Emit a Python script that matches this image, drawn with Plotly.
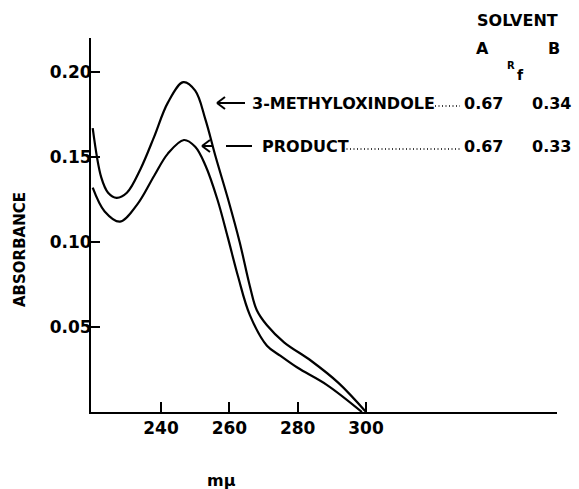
import plotly.graph_objects as go

# ---- data ----
wl_methyl = [220, 222.5, 224.5, 227, 230, 234, 238, 242, 246.5, 250, 253,
             256, 259.5, 263, 266, 268, 271, 276, 284, 292, 300]
abs_methyl = [0.167, 0.138, 0.129, 0.126, 0.129, 0.143, 0.162, 0.182, 0.194, 0.189, 0.172,
              0.150, 0.126, 0.100, 0.074, 0.060, 0.051, 0.041, 0.030, 0.017, 0.0]

wl_product = [220, 223.5, 228, 233, 238, 242, 246.7, 250, 253, 256.5, 259.5,
              262.5, 266, 271, 275, 280, 288.5, 298.8]
abs_product = [0.132, 0.118, 0.112, 0.122, 0.139, 0.152, 0.160, 0.156, 0.145, 0.125, 0.103,
               0.080, 0.057, 0.039, 0.033, 0.026, 0.016, 0.0]

x_ticks = [240, 260, 280, 300]
y_ticks = [0.05, 0.10, 0.15, 0.20]

compounds = ["3-METHYLOXINDOLE", "PRODUCT"]
rf_solvent_a = ["0.67", "0.67"]
rf_solvent_b = ["0.34", "0.33"]

# ---- layout geometry ----
W, H = 579, 489
L, R, T, B = 91, 22, 38, 77
PW, PH = W - L - R, H - T - B

def px(x):
    return (x - L) / PW

def py(y):
    return (H - B - y) / PH

FONT = "DejaVu Sans"

fig = go.Figure()
for wl, ab in [(wl_methyl, abs_methyl), (wl_product, abs_product)]:
    fig.add_trace(go.Scatter(x=wl, y=ab, mode="lines",
                             line=dict(color="black", width=2.2, shape="spline", smoothing=1.0),
                             showlegend=False, hoverinfo="skip"))

annotations = []
def txt(text, x, y, size=16, xanchor="center", angle=0):
    annotations.append(dict(text=text, x=px(x), y=py(y), xref="paper", yref="paper",
                            xanchor=xanchor, yanchor="middle", showarrow=False,
                            textangle=angle,
                            font=dict(family=FONT, size=size, color="black", weight="bold")))

txt("SOLVENT", 517, 20)
txt("A", 482, 48)
txt("B", 554, 48)
txt("R", 511, 66, size=10)
txt("f", 520, 75, size=14)

row_y = [103, 146]
name_x = [250, 260]
dots_x0 = [435, 343]
for i in range(2):
    txt(compounds[i], name_x[i], row_y[i], xanchor="left")
    txt(rf_solvent_a[i], 462, row_y[i], xanchor="left")
    txt(rf_solvent_b[i], 573, row_y[i], xanchor="right")

txt("ABSORBANCE", 20, 250, size=15, angle=-90)
txt("m\u03bc", 221, 480, size=16)

shapes = []
def seg(x0, y0, x1, y1, dash=None, width=2):
    shapes.append(dict(type="line", xref="paper", yref="paper",
                       x0=px(x0), y0=py(y0), x1=px(x1), y1=py(y1),
                       line=dict(color="black", width=width, dash=dash)))

# arrows
seg(217, 103, 245, 103)
seg(217, 103, 225, 97)
seg(217, 103, 225, 109)
seg(202, 146, 213, 146)
seg(202, 146, 210, 140)
seg(202, 146, 210, 152)
seg(226, 146, 252, 146)
# dotted leaders
for i in range(2):
    seg(dots_x0[i], row_y[i] + 3, 460, row_y[i] + 3, dash="1px,2.5px", width=1.5)

fig.update_layout(
    width=W, height=H,
    margin=dict(l=L, r=R, t=T, b=B),
    paper_bgcolor="white", plot_bgcolor="white",
    annotations=annotations, shapes=shapes,
    xaxis=dict(range=[219.5, 219.5 + PW / 3.4167], tickvals=x_ticks,
               ticks="inside", ticklen=10, tickwidth=2, tickcolor="black",
               showline=True, linecolor="black", linewidth=2, showgrid=False, zeroline=False,
               tickfont=dict(family=FONT, size=17, color="black", weight="bold")),
    yaxis=dict(range=[0, 0.22], tickvals=y_ticks, tickformat=".2f",
               ticks="inside", ticklen=9, tickwidth=2, tickcolor="black",
               ticklabelstandoff=-6,
               showline=True, linecolor="black", linewidth=2, showgrid=False, zeroline=False,
               tickfont=dict(family=FONT, size=17, color="black", weight="bold")),
)

fig.write_html("out.html", config={"displayModeBar": False},
               post_script="document.body.style.margin='0';document.body.style.overflow='hidden';")
